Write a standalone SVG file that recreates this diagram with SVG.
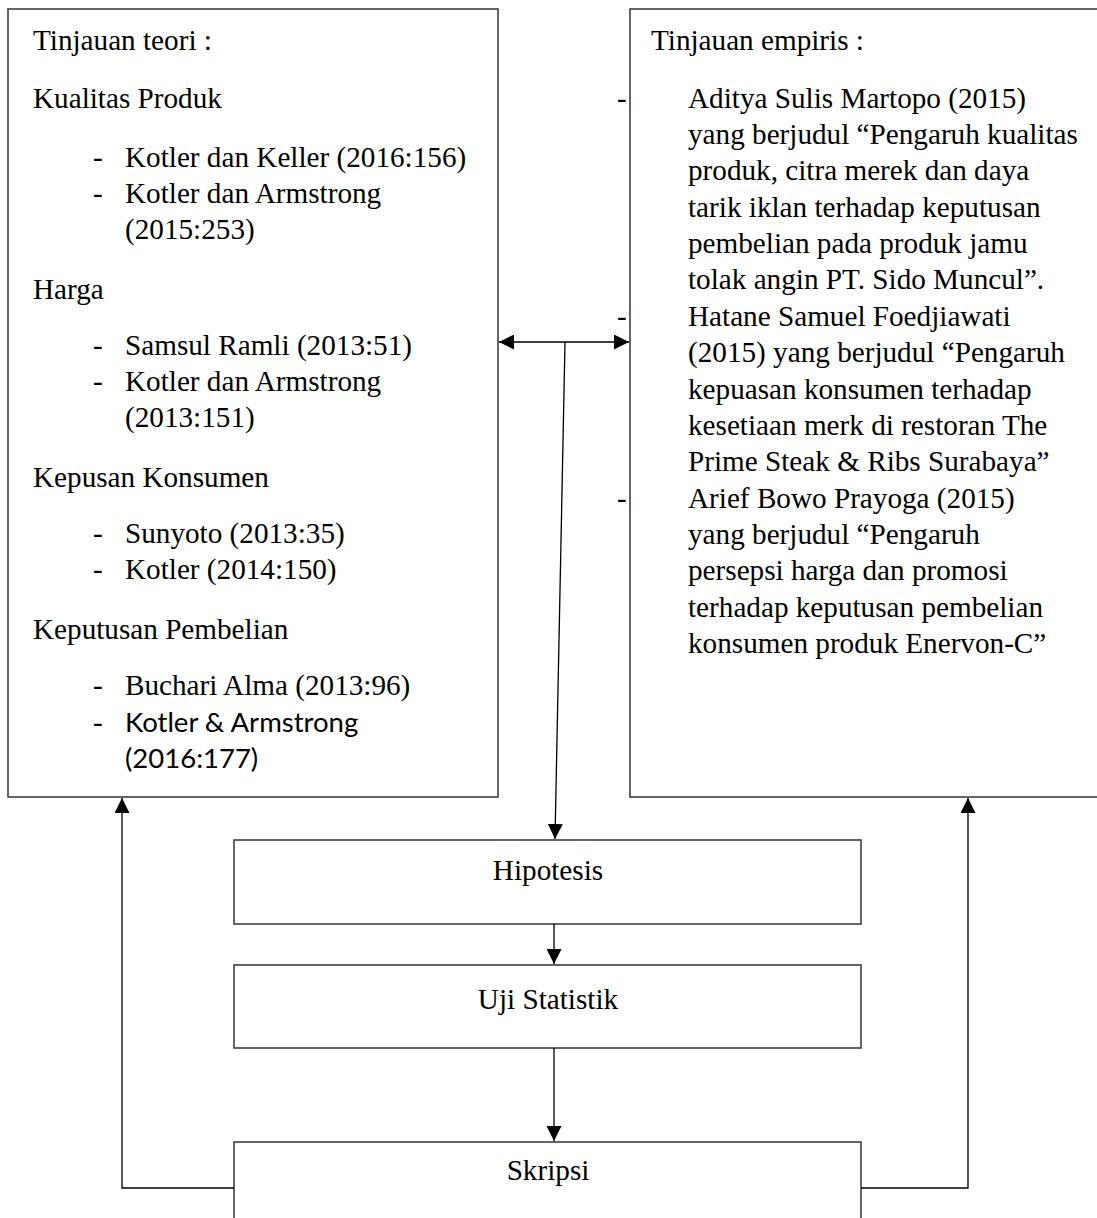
<svg xmlns="http://www.w3.org/2000/svg" width="1097" height="1218" viewBox="0 0 1097 1218">
<style>
.box{fill:#fff;stroke:#404040;stroke-width:1.6}
.t{font-family:"Liberation Serif","Times New Roman",serif;font-size:29.2px;fill:#000}
.s{font-family:Lato,"Liberation Sans",sans-serif;font-size:27.5px;fill:#000}
.c{text-anchor:middle}
.ln{fill:none;stroke:#000;stroke-width:1.3}
</style>
<defs>
<marker id="ah" viewBox="0 0 15 15" refX="15" refY="7.5" markerWidth="15" markerHeight="15" markerUnits="userSpaceOnUse" orient="auto-start-reverse">
<path d="M0,0 L15,7.5 L0,15 z" fill="#000"/>
</marker>
</defs>
<rect width="1097" height="1218" fill="#fff"/>
<g id="tinjauan-teori">
<rect class="box" x="8" y="9" width="490" height="788"/>
<text class="t" x="33" y="50">Tinjauan teori :</text>
<text class="t" x="33" y="108">Kualitas Produk</text>
<text class="t" x="93" y="167">-</text><text class="t" x="125" y="167">Kotler dan Keller (2016:156)</text>
<text class="t" x="93" y="203">-</text><text class="t" x="125" y="203">Kotler dan Armstrong</text>
<text class="t" x="125" y="239">(2015:253)</text>
<text class="t" x="33" y="299">Harga</text>
<text class="t" x="93" y="355">-</text><text class="t" x="125" y="355">Samsul Ramli (2013:51)</text>
<text class="t" x="93" y="391">-</text><text class="t" x="125" y="391">Kotler dan Armstrong</text>
<text class="t" x="125" y="427">(2013:151)</text>
<text class="t" x="33" y="487">Kepusan Konsumen</text>
<text class="t" x="93" y="543">-</text><text class="t" x="125" y="543">Sunyoto (2013:35)</text>
<text class="t" x="93" y="579">-</text><text class="t" x="125" y="579">Kotler (2014:150)</text>
<text class="t" x="33" y="639">Keputusan Pembelian</text>
<text class="t" x="93" y="695">-</text><text class="t" x="125" y="695">Buchari Alma (2013:96)</text>
<text class="t" x="93" y="732">-</text><text class="s" x="125" y="732">Kotler &amp; Armstrong</text>
<text class="s" x="125" y="768">(2016:177)</text>
</g>
<g id="tinjauan-empiris">
<rect class="box" x="630" y="9" width="480" height="788"/>
<text class="t" x="651" y="50">Tinjauan empiris :</text>
<text class="t" x="617" y="108">-</text><text class="t" x="688" y="108">Aditya Sulis Martopo (2015)</text>
<text class="t" x="688" y="144">yang berjudul “Pengaruh kualitas</text>
<text class="t" x="688" y="180">produk, citra merek dan daya</text>
<text class="t" x="688" y="217">tarik iklan terhadap keputusan</text>
<text class="t" x="688" y="253">pembelian pada produk jamu</text>
<text class="t" x="688" y="289">tolak angin PT. Sido Muncul”.</text>
<text class="t" x="617" y="326">-</text><text class="t" x="688" y="326">Hatane Samuel Foedjiawati</text>
<text class="t" x="688" y="362">(2015) yang berjudul “Pengaruh</text>
<text class="t" x="688" y="399">kepuasan konsumen terhadap</text>
<text class="t" x="688" y="435">kesetiaan merk di restoran The</text>
<text class="t" x="688" y="471">Prime Steak &amp; Ribs Surabaya”</text>
<text class="t" x="617" y="508">-</text><text class="t" x="688" y="508">Arief Bowo Prayoga (2015)</text>
<text class="t" x="688" y="544">yang berjudul “Pengaruh</text>
<text class="t" x="688" y="580">persepsi harga dan promosi</text>
<text class="t" x="688" y="617">terhadap keputusan pembelian</text>
<text class="t" x="688" y="653">konsumen produk Enervon-C”</text>
</g>
<g id="hipotesis">
<rect class="box" x="234" y="840" width="627" height="84"/>
<text class="t c" x="548" y="880">Hipotesis</text>
</g>
<g id="uji-statistik">
<rect class="box" x="234" y="965" width="627" height="83"/>
<text class="t c" x="548" y="1009">Uji Statistik</text>
</g>
<g id="skripsi">
<rect class="box" x="234" y="1142" width="627" height="100"/>
<text class="t c" x="548" y="1180">Skripsi</text>
</g>
<g id="connectors">
<line class="ln" x1="499" y1="342" x2="629" y2="342" marker-start="url(#ah)" marker-end="url(#ah)"/>
<line class="ln" x1="565" y1="342" x2="555" y2="839" marker-end="url(#ah)"/>
<line class="ln" x1="554" y1="924" x2="554" y2="964" marker-end="url(#ah)"/>
<line class="ln" x1="554" y1="1048" x2="554" y2="1141" marker-end="url(#ah)"/>
<polyline class="ln" points="234,1188 122,1188 122,798" marker-end="url(#ah)"/>
<polyline class="ln" points="861,1188 968,1188 968,798" marker-end="url(#ah)"/>
</g>
</svg>
